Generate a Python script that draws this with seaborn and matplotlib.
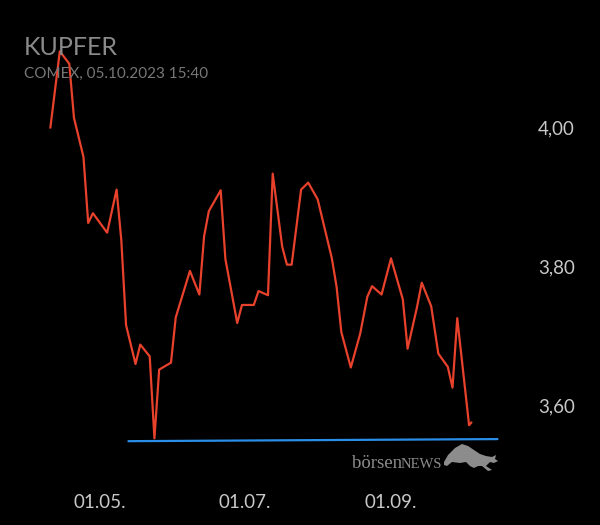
import pandas as pd
import seaborn as sns
import matplotlib.pyplot as plt
import matplotlib.dates as mdates
from matplotlib.patches import Polygon

# Kupfer COMEX, Werte
dates = ["2023-04-10", "2023-04-14", "2023-04-18", "2023-04-20", "2023-04-24", "2023-04-26",
         "2023-04-28", "2023-05-04", "2023-05-08", "2023-05-10", "2023-05-12", "2023-05-16",
         "2023-05-18", "2023-05-22", "2023-05-24", "2023-05-26", "2023-05-31", "2023-06-02",
         "2023-06-08", "2023-06-12", "2023-06-14", "2023-06-16", "2023-06-21", "2023-06-23",
         "2023-06-28", "2023-06-30", "2023-07-05", "2023-07-07", "2023-07-11", "2023-07-13",
         "2023-07-17", "2023-07-19", "2023-07-21", "2023-07-25", "2023-07-28", "2023-08-01",
         "2023-08-07", "2023-08-09", "2023-08-11", "2023-08-15", "2023-08-19", "2023-08-22",
         "2023-08-24", "2023-08-28", "2023-09-01", "2023-09-06", "2023-09-08", "2023-09-12",
         "2023-09-14", "2023-09-18", "2023-09-21", "2023-09-25", "2023-09-27", "2023-09-29",
         "2023-10-04", "2023-10-05"]
prices = [3.999, 4.109, 4.091, 4.013, 3.957, 3.862, 3.876, 3.848, 3.910, 3.837, 3.715, 3.659,
          3.687, 3.670, 3.552, 3.651, 3.661, 3.726, 3.793, 3.759, 3.843, 3.879, 3.909, 3.810,
          3.718, 3.744, 3.744, 3.764, 3.758, 3.933, 3.828, 3.802, 3.802, 3.910, 3.920, 3.896,
          3.811, 3.770, 3.705, 3.654, 3.703, 3.756, 3.771, 3.759, 3.811, 3.752, 3.681, 3.741,
          3.776, 3.742, 3.674, 3.655, 3.625, 3.725, 3.571, 3.575]

# Unterstuetzungslinie
support_dates = ["2023-05-13", "2023-10-16"]
support_values = [3.548, 3.551]

xtick_dates = ["2023-05-01", "2023-07-01", "2023-09-01"]
yticks = [3.60, 3.80, 4.00]

df = pd.DataFrame({"date": pd.to_datetime(dates), "price": prices})
sup = pd.DataFrame({"date": pd.to_datetime(support_dates), "value": support_values})

sns.set_style("dark")
plt.rcParams["font.family"] = ["Lato", "DejaVu Sans"]

fig = plt.figure(figsize=(6, 5.25), dpi=100, facecolor="black")
ax = fig.add_axes([0.05, 0.0952, 0.8, 0.8667])
ax.set_facecolor("black")

sns.lineplot(data=df, x="date", y="price", ax=ax, color="#e8412c", linewidth=1.6)
sns.lineplot(data=sup, x="date", y="value", ax=ax, color="#2a8ee8", linewidth=1.6)

may1 = pd.Timestamp("2023-05-01")
ax.set_xlim(may1 - pd.Timedelta(days=29.6), may1 + pd.Timedelta(days=173.3))
ax.set_ylim(3.4993, 4.154)

ax.set_xticks(pd.to_datetime(xtick_dates))
ax.xaxis.set_major_formatter(mdates.DateFormatter("%d.%m."))
ax.set_yticks(yticks)
ax.set_yticklabels([f"{v:.2f}".replace(".", ",") for v in yticks])
ax.yaxis.tick_right()
ax.tick_params(axis="both", length=0, colors="#c8c8c8", labelsize=13.5)
ax.tick_params(axis="y", pad=20)
ax.tick_params(axis="x", pad=14)
ax.grid(False)
for s in ax.spines.values():
    s.set_visible(False)
ax.set_xlabel("")
ax.set_ylabel("")

fig.text(0.04, 0.895, "KUPFER", color="#8a8a8a", fontsize=18)
fig.text(0.04, 0.852, "COMEX, 05.10.2023 15:40", color="#777777", fontsize=11)

# Logo
fig.text(352 / 600, 1 - 468 / 525, "börsen", color="#8c8c8c", fontsize=13.5,
         family="Liberation Serif", va="baseline")
fig.text(401 / 600, 1 - 468 / 525, "NEWS", color="#8c8c8c", fontsize=10.5,
         family="Liberation Serif", va="baseline")
bull = [(444, 462), (448, 455), (455, 448), (462, 444), (468, 446), (474, 450), (480, 454),
        (486, 456), (492, 457), (496, 455), (495, 459), (498, 461), (494, 463), (490, 462),
        (486, 466), (492, 470), (488, 471), (482, 466), (478, 466), (474, 468), (470, 466),
        (466, 462), (460, 463), (452, 462), (447, 466), (444, 465)]
fig.patches.append(Polygon([(x / 600, 1 - y / 525) for x, y in bull], closed=True,
                           transform=fig.transFigure, facecolor="#8c8c8c", edgecolor="none"))

fig.savefig("out.png", dpi=100, facecolor="black")
